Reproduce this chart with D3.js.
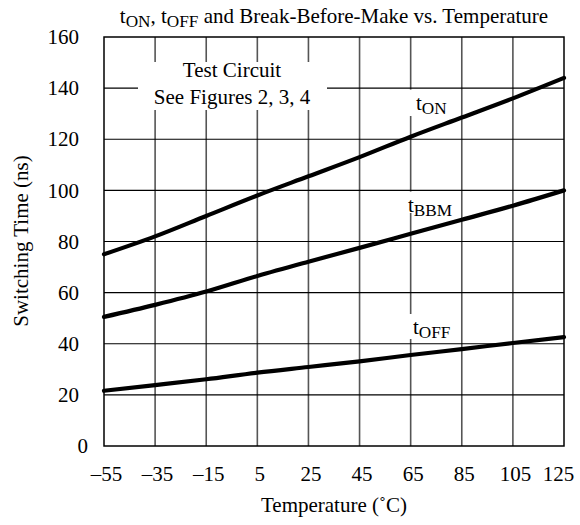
<!DOCTYPE html>
<html><head><meta charset="utf-8">
<script src="https://cdn.jsdelivr.net/npm/d3@7"></script>
<style>
html,body{margin:0;padding:0;background:#fff;}
text{font-family:"Liberation Serif","Times New Roman",serif;fill:#000;}
</style></head>
<body><svg id="c" width="580" height="525"></svg>
<script>
const temps = [-55, -35, -15, 5, 25, 45, 65, 85, 105, 125];
const xTickLabels = ["–55", "–35", "–15", "5", "25", "45", "65", "85", "105", "125"];
const yTicks = [0, 20, 40, 60, 80, 100, 120, 140, 160];
const tON  = [75, 82, 90, 98, 105.5, 113, 121, 128.5, 136, 144];
const tBBM = [50.5, 55.2, 60.4, 66.5, 72.1, 77.5, 83, 88.5, 94, 100];
const tOFF = [21.6, 23.8, 26.1, 28.7, 30.9, 33.1, 35.6, 37.9, 40.3, 42.6];

const svg = d3.select("#c");
const L = 104, R = 564, T = 37, B = 446;
const x = d3.scaleLinear().domain([-55, 125]).range([L, R]);
const y = d3.scaleLinear().domain([0, 160]).range([B, T]);
const FS = 21;

// grid
svg.append("g").selectAll("line").data(temps.slice(1, -1)).join("line")
  .attr("x1", d => x(d)).attr("x2", d => x(d)).attr("y1", T).attr("y2", B)
  .attr("stroke", "#555").attr("stroke-width", 1.6);
svg.append("g").selectAll("line").data(yTicks.slice(1, -1)).join("line")
  .attr("x1", L).attr("x2", R).attr("y1", d => y(d)).attr("y2", d => y(d))
  .attr("stroke", "#000").attr("stroke-width", 1.1);

// white masks
const masks = [
  [138, 62, 189, 48],
  [406, 89.6, 44, 26.4],
  [402, 191.6, 52, 21.4],
  [406, 314, 50, 25]
];
svg.append("g").selectAll("rect").data(masks).join("rect")
  .attr("x", d => d[0]).attr("y", d => d[1]).attr("width", d => d[2]).attr("height", d => d[3])
  .attr("fill", "#fff");

// border
svg.append("rect").attr("x", L).attr("y", T).attr("width", R - L).attr("height", B - T)
  .attr("fill", "none").attr("stroke", "#000").attr("stroke-width", 1.5);

// axes labels
const xa = svg.append("g").attr("transform", `translate(0,${B})`)
  .call(d3.axisBottom(x).tickValues(temps).tickSize(0).tickPadding(20)
    .tickFormat((d, i) => xTickLabels[i]));
xa.select(".domain").remove();
xa.selectAll("text").attr("font-size", FS).attr("font-family", null).attr("dx", (d, i) => i === temps.length - 1 ? -6 : 2);

const ya = svg.append("g").attr("transform", `translate(${L},0)`)
  .call(d3.axisLeft(y).tickValues(yTicks).tickSize(0).tickPadding(25));
ya.select(".domain").remove();
ya.selectAll("text").attr("font-size", FS).attr("font-family", null).attr("dx", d => d === 0 ? 9 : 0);

// series lines
const line = d3.line().x((d, i) => x(temps[i])).y(d => y(d)).curve(d3.curveMonotoneX);
[tON, tBBM, tOFF].forEach(s => {
  svg.append("path").datum(s).attr("d", line).attr("fill", "none")
    .attr("stroke", "#000").attr("stroke-width", 4.2).attr("stroke-linecap", "round");
});

// subscript helper
function subText(g, xx, yy, parts, anchor) {
  const t = g.append("text").attr("x", xx).attr("y", yy).attr("font-size", FS)
    .attr("text-anchor", anchor || "start");
  parts.forEach(p => {
    if (p.sub) {
      t.append("tspan").attr("font-size", FS * 0.82).attr("dy", 3.5).text(p.t);
    } else {
      t.append("tspan").attr("dy", p.back ? -3.5 : 0).text(p.t);
    }
  });
  return t;
}

// title
subText(svg, 334, 23, [
  {t: "t"}, {t: "ON", sub: true}, {t: ", t", back: true}, {t: "OFF", sub: true},
  {t: " and Break-Before-Make vs. Temperature", back: true}
], "middle");

// box text
svg.append("text").attr("x", 232).attr("y", 77).attr("text-anchor", "middle").attr("font-size", FS).text("Test Circuit");
svg.append("text").attr("x", 232).attr("y", 104).attr("text-anchor", "middle").attr("font-size", FS).text("See Figures 2, 3, 4");

// series labels
subText(svg, 416, 110, [{t: "t"}, {t: "ON", sub: true}]);
subText(svg, 408, 212, [{t: "t"}, {t: "BBM", sub: true}]);
subText(svg, 413, 334, [{t: "t"}, {t: "OFF", sub: true}]);

// axis titles
svg.append("text").attr("x", 334).attr("y", 512).attr("text-anchor", "middle").attr("font-size", FS)
  .text("Temperature (˚C)");
svg.append("text").attr("transform", "translate(28,241) rotate(-90)").attr("text-anchor", "middle")
  .attr("font-size", FS).text("Switching Time (ns)");
</script></body></html>
